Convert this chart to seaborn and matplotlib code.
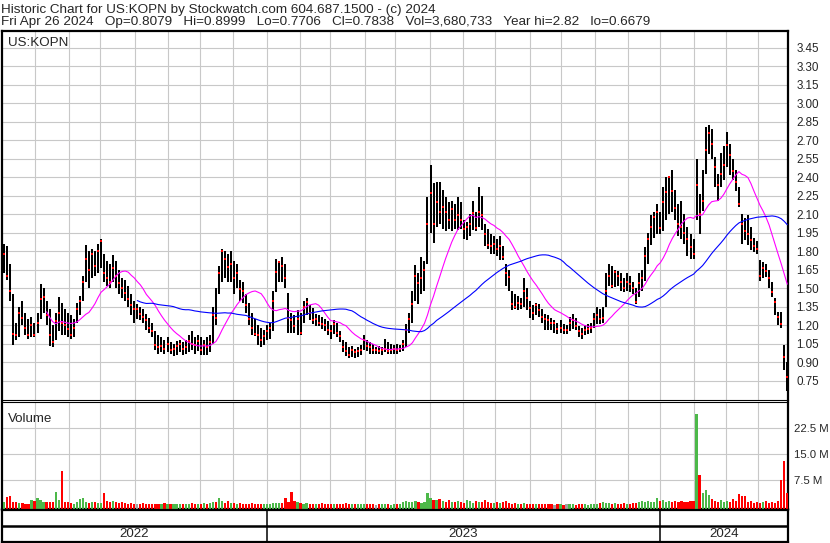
import numpy as np
import pandas as pd
import matplotlib
matplotlib.use("Agg")
import matplotlib.pyplot as plt
import seaborn as sns

sns.set_style("white")
plt.rcParams['font.family'] = ['Liberation Sans', 'DejaVu Sans']

# one bar for every second trading day, 2022-05-02 .. 2024-04-26
highs = [
    1.86, 1.84, 1.70, 1.45, 1.22, 1.35, 1.40, 1.30, 1.25, 1.27,
    1.22, 1.30, 1.53, 1.50, 1.40, 1.33, 1.20, 1.30, 1.43, 1.38,
    1.33, 1.30, 1.28, 1.25, 1.38, 1.44, 1.60, 1.85, 1.80, 1.82,
    1.80, 1.86, 1.90, 1.78, 1.72, 1.70, 1.77, 1.72, 1.65, 1.58,
    1.57, 1.52, 1.45, 1.40, 1.37, 1.35, 1.33, 1.29, 1.26, 1.22,
    1.15, 1.12, 1.10, 1.08, 1.10, 1.06, 1.05, 1.07, 1.08, 1.06,
    1.08, 1.12, 1.15, 1.10, 1.12, 1.10, 1.08, 1.10, 1.12, 1.35,
    1.50, 1.68, 1.82, 1.80, 1.78, 1.80, 1.72, 1.70, 1.57, 1.55,
    1.45, 1.38, 1.30, 1.25, 1.20, 1.18, 1.16, 1.20, 1.22, 1.48,
    1.74, 1.72, 1.75, 1.70, 1.46, 1.30, 1.28, 1.32, 1.30, 1.40,
    1.42, 1.36, 1.34, 1.29, 1.28, 1.27, 1.25, 1.23, 1.20, 1.24,
    1.22, 1.15, 1.08, 1.06, 1.02, 1.03, 1.01, 1.02, 1.04, 1.12,
    1.08, 1.06, 1.05, 1.02, 1.03, 1.02, 1.09, 1.06, 1.05, 1.04,
    1.05, 1.04, 1.08, 1.21, 1.30, 1.48, 1.69, 1.62, 1.75, 1.72,
    2.24, 2.50, 2.35, 2.36, 2.36, 2.30, 2.24, 2.20, 2.21, 2.18,
    2.24, 2.20, 2.05, 2.04, 2.10, 2.21, 2.12, 2.32, 2.25, 2.02,
    1.98, 1.94, 1.92, 1.90, 1.92, 1.84, 1.70, 1.65, 1.48, 1.45,
    1.44, 1.42, 1.58, 1.50, 1.40, 1.36, 1.38, 1.37, 1.33, 1.29,
    1.28, 1.26, 1.24, 1.22, 1.24, 1.21, 1.20, 1.27, 1.29, 1.26,
    1.19, 1.18, 1.20, 1.21, 1.22, 1.30, 1.35, 1.33, 1.35, 1.62,
    1.70, 1.68, 1.65, 1.64, 1.62, 1.58, 1.62, 1.60, 1.55, 1.50,
    1.62, 1.65, 1.83, 1.95, 2.09, 2.12, 2.18, 2.12, 2.32, 2.40,
    2.40, 2.46, 2.30, 2.18, 2.21, 2.10, 2.00, 1.94, 1.90, 2.55,
    2.26, 2.46, 2.81, 2.82, 2.79, 2.56, 2.43, 2.60, 2.65, 2.77,
    2.67, 2.55, 2.46, 2.32, 2.10, 2.07, 2.09, 2.00, 1.91, 1.88,
    1.73, 1.71, 1.70, 1.65, 1.55, 1.42, 1.31, 1.31, 1.04, 0.90,
]
lows = [
    1.62, 1.57, 1.40, 1.04, 1.08, 1.10, 1.20, 1.12, 1.09, 1.10,
    1.10, 1.14, 1.25, 1.30, 1.20, 1.03, 1.02, 1.08, 1.15, 1.12,
    1.12, 1.10, 1.09, 1.10, 1.22, 1.28, 1.40, 1.55, 1.50, 1.58,
    1.60, 1.62, 1.66, 1.55, 1.52, 1.50, 1.55, 1.50, 1.45, 1.42,
    1.40, 1.35, 1.28, 1.22, 1.25, 1.24, 1.22, 1.16, 1.14, 1.10,
    1.00, 0.97, 0.98, 0.97, 0.98, 0.97, 0.95, 0.96, 0.98, 0.96,
    0.97, 0.98, 1.00, 0.97, 0.99, 0.96, 0.96, 0.96, 0.98, 1.05,
    1.20, 1.45, 1.55, 1.58, 1.55, 1.55, 1.45, 1.50, 1.40, 1.38,
    1.30, 1.20, 1.12, 1.11, 1.04, 1.02, 1.04, 1.08, 1.09, 1.15,
    1.47, 1.55, 1.55, 1.50, 1.14, 1.14, 1.14, 1.12, 1.12, 1.22,
    1.28, 1.24, 1.21, 1.19, 1.19, 1.17, 1.15, 1.12, 1.09, 1.13,
    1.10, 1.06, 0.98, 0.95, 0.93, 0.94, 0.93, 0.94, 0.96, 1.00,
    0.99, 0.97, 0.97, 0.97, 0.97, 0.96, 0.98, 0.97, 0.97, 0.97,
    0.97, 0.98, 0.99, 1.02, 1.14, 1.22, 1.40, 1.37, 1.45, 1.48,
    1.70, 1.95, 1.87, 2.00, 2.02, 1.98, 1.96, 1.98, 1.96, 1.98,
    1.97, 1.98, 1.90, 1.89, 1.92, 1.97, 1.96, 2.00, 1.97, 1.84,
    1.82, 1.78, 1.78, 1.76, 1.73, 1.73, 1.52, 1.48, 1.32, 1.33,
    1.32, 1.33, 1.35, 1.32, 1.26, 1.24, 1.28, 1.27, 1.22, 1.16,
    1.16, 1.16, 1.14, 1.13, 1.14, 1.13, 1.13, 1.15, 1.17, 1.16,
    1.10, 1.09, 1.12, 1.13, 1.14, 1.18, 1.21, 1.21, 1.22, 1.35,
    1.52, 1.50, 1.51, 1.52, 1.48, 1.47, 1.48, 1.47, 1.45, 1.37,
    1.43, 1.48, 1.56, 1.70, 1.85, 1.91, 1.94, 1.94, 1.96, 2.05,
    2.10, 2.12, 2.05, 1.92, 1.90, 1.86, 1.76, 1.74, 1.74, 2.05,
    1.94, 2.13, 2.43, 2.59, 2.55, 2.32, 2.21, 2.32, 2.38, 2.48,
    2.42, 2.38, 2.29, 2.16, 1.86, 1.89, 1.85, 1.81, 1.79, 1.78,
    1.56, 1.58, 1.59, 1.50, 1.43, 1.28, 1.20, 1.18, 0.84, 0.67,
]
closes = [
    1.78, 1.60, 1.48, 1.13, 1.12, 1.30, 1.26, 1.18, 1.12, 1.20,
    1.12, 1.22, 1.41, 1.43, 1.28, 1.12, 1.06, 1.23, 1.30, 1.22,
    1.20, 1.17, 1.12, 1.18, 1.33, 1.40, 1.55, 1.74, 1.65, 1.78,
    1.68, 1.80, 1.88, 1.62, 1.58, 1.55, 1.66, 1.60, 1.54, 1.50,
    1.46, 1.41, 1.36, 1.33, 1.33, 1.29, 1.27, 1.24, 1.18, 1.15,
    1.04, 1.02, 1.03, 1.01, 1.05, 1.00, 1.01, 1.03, 1.05, 1.01,
    1.02, 1.07, 1.05, 1.04, 1.07, 1.00, 1.04, 1.02, 1.06, 1.28,
    1.26, 1.62, 1.80, 1.74, 1.67, 1.70, 1.58, 1.62, 1.49, 1.48,
    1.36, 1.25, 1.18, 1.13, 1.12, 1.08, 1.11, 1.15, 1.18, 1.40,
    1.63, 1.71, 1.68, 1.58, 1.26, 1.24, 1.19, 1.25, 1.14, 1.35,
    1.39, 1.30, 1.24, 1.25, 1.22, 1.21, 1.20, 1.16, 1.15, 1.21,
    1.14, 1.11, 1.02, 0.99, 0.96, 1.00, 0.98, 0.99, 1.00, 1.08,
    1.03, 1.02, 1.00, 1.00, 0.99, 1.00, 1.01, 0.99, 1.00, 1.01,
    1.00, 1.01, 1.05, 1.16, 1.25, 1.37, 1.60, 1.54, 1.58, 1.65,
    2.02, 2.27, 2.02, 2.20, 2.12, 2.16, 2.12, 2.05, 2.14, 2.05,
    2.09, 2.05, 1.98, 2.00, 2.02, 2.11, 1.99, 2.12, 2.09, 1.94,
    1.85, 1.84, 1.86, 1.82, 1.84, 1.75, 1.62, 1.59, 1.37, 1.35,
    1.38, 1.37, 1.48, 1.42, 1.34, 1.30, 1.36, 1.32, 1.27, 1.25,
    1.24, 1.22, 1.22, 1.17, 1.18, 1.16, 1.16, 1.22, 1.24, 1.19,
    1.15, 1.13, 1.16, 1.17, 1.18, 1.25, 1.28, 1.25, 1.26, 1.48,
    1.60, 1.52, 1.63, 1.60, 1.55, 1.50, 1.55, 1.53, 1.50, 1.39,
    1.54, 1.58, 1.76, 1.90, 2.00, 2.08, 2.12, 1.99, 2.20, 2.28,
    2.40, 2.29, 2.15, 2.02, 2.00, 1.95, 1.90, 1.83, 1.78, 2.34,
    2.10, 2.21, 2.62, 2.76, 2.67, 2.48, 2.34, 2.43, 2.50, 2.66,
    2.58, 2.45, 2.36, 2.18, 2.02, 1.96, 1.94, 1.89, 1.84, 1.82,
    1.60, 1.66, 1.64, 1.58, 1.47, 1.39, 1.27, 1.21, 0.94, 0.78,
]
# volume in millions of shares
volumes = [
    1.2, 2.5, 2.9, 1.2, 1.1, 0.7, 0.8, 0.6, 0.5, 1.7,
    1.5, 2.4, 1.6, 1.0, 1.2, 1.0, 1.1, 4.1, 1.8, 10.0,
    1.0, 1.2, 0.8, 0.6, 1.0, 2.0, 2.4, 1.2, 0.9, 1.0,
    1.1, 0.9, 0.9, 3.6, 1.5, 1.0, 1.5, 1.2, 0.8, 1.0,
    0.7, 0.6, 0.8, 0.5, 0.6, 0.4, 0.7, 0.5, 0.4, 0.5,
    0.6, 0.4, 0.5, 0.7, 0.4, 0.5, 0.6, 0.5, 0.4, 0.6,
    0.5, 0.4, 0.7, 0.5, 0.6, 0.5, 0.8, 0.5, 0.7, 1.0,
    1.0, 2.4, 1.4, 0.8, 1.5, 0.7, 0.8, 0.6, 0.7, 0.5,
    0.6, 0.5, 0.7, 0.4, 0.5, 0.6, 0.5, 0.4, 0.6, 0.8,
    0.9, 0.7, 0.9, 2.4, 1.2, 3.9, 1.5, 1.0, 0.8, 0.6,
    0.7, 0.5, 0.6, 0.4, 0.5, 0.7, 0.5, 0.4, 0.6, 0.5,
    0.4, 0.6, 0.5, 0.7, 0.4, 0.5, 0.6, 0.4, 0.5, 0.6,
    0.4, 0.5, 0.4, 0.3, 0.5, 0.4, 0.6, 0.4, 0.3, 0.5,
    0.4, 0.6, 1.0, 1.4, 1.2, 1.0, 1.5, 1.2, 0.9, 1.1,
    3.7, 2.4, 1.8, 1.6, 2.0, 1.5, 1.2, 1.7, 1.0, 1.2,
    1.5, 1.0, 0.9, 1.8, 1.3, 0.8, 1.4, 1.1, 1.0, 1.6,
    1.2, 0.9, 0.8, 1.0, 0.7, 1.1, 1.5, 0.9, 0.6, 0.8,
    0.6, 0.5, 0.7, 0.4, 0.5, 0.6, 0.5, 0.4, 0.6, 0.5,
    0.4, 0.5, 0.3, 0.4, 0.5, 0.3, 0.4, 0.5, 0.4, 0.3,
    0.4, 0.5, 0.4, 0.3, 0.5, 0.4, 0.4, 0.8, 1.1, 0.9,
    0.7, 0.6, 0.8, 0.5, 0.6, 0.7, 0.5, 0.6, 0.8, 0.7,
    1.0, 1.4, 1.2, 1.5, 1.0, 1.2, 2.4, 1.5, 1.8, 1.2,
    1.3, 1.0, 1.5, 1.1, 1.4, 1.2, 1.0, 1.3, 1.3, 26.5,
    8.8, 3.8, 4.5, 3.0, 2.0, 1.5, 1.2, 1.8, 1.0, 1.4,
    1.2, 2.0, 1.5, 3.4, 2.9, 2.8, 1.0, 1.3, 0.9, 1.2,
    0.8, 1.0, 1.5, 0.9, 1.2, 0.8, 1.5, 7.4, 12.8, 3.7,
]

price_ticks = [0.75, 0.90, 1.05, 1.20, 1.35, 1.50, 1.65, 1.80, 1.95, 2.10,
               2.25, 2.40, 2.55, 2.70, 2.85, 3.00, 3.15, 3.30, 3.45]
vol_ticks = [7.5, 15.0, 22.5]
vol_labels = ['7.5 M', '15.0 M', '22.5 M']

title1 = "Historic Chart for US:KOPN by Stockwatch.com 604.687.1500 - (c) 2024"
title2 = ("Fri Apr 26 2024   Op=0.8079   Hi=0.8999   Lo=0.7706   Cl=0.7838   "
          "Vol=3,680,733   Year hi=2.82   lo=0.6679")

days = pd.bdate_range('2022-05-02', '2024-04-26')
pos = np.arange(1, len(days), 2)
df = pd.DataFrame({'pos': pos, 'high': highs, 'low': lows,
                   'close': closes, 'vol': volumes})
df['ma_fast'] = df['close'].rolling(15).mean()
df['ma_slow'] = df['close'].rolling(45).mean()
chg = df['close'].diff().fillna(1)
df['vcol'] = np.where(chg > 0, '#4CB849', np.where(chg < 0, '#FF0000', '#A0A0A0'))

month_lines = [i - 0.5 for i in range(1, len(days)) if days[i].month != days[i - 1].month]
year_lines = [i - 0.5 for i in range(1, len(days)) if days[i].year != days[i - 1].year]

W, H = 830, 543
fig = plt.figure(figsize=(W / 100, H / 100), dpi=100)


def box(left, top, right, bottom):
    return [left / W, 1 - bottom / H, (right - left) / W, (bottom - top) / H]


ax = fig.add_axes(box(2, 31, 788, 400))
axv = fig.add_axes(box(2, 402, 788, 509))
axs = fig.add_axes(box(2, 510, 788, 542))
xlim = (-0.5, len(days) - 0.5)
grid_kw = dict(color='#C8C8C8', lw=0.8)

# price panel
ax.vlines(df['pos'], df['low'], df['high'], color='black', lw=1.2, zorder=3,
          antialiased=False)
ax.scatter(df['pos'], df['close'], marker='s', s=2.2, color='red', linewidths=0, zorder=4)
sns.lineplot(data=df.dropna(subset=['ma_fast']), x='pos', y='ma_fast', ax=ax,
             color='#FF00FF', lw=0.8, zorder=5)
sns.lineplot(data=df.dropna(subset=['ma_slow']), x='pos', y='ma_slow', ax=ax,
             color='#0000FF', lw=0.8, zorder=5)
ax.set_xlim(xlim)
ax.set_ylim(0.593, 3.586)
ax.set_yticks(price_ticks)
ax.set_yticklabels(['{:.2f}'.format(t) for t in price_ticks])
ax.set_xticks(month_lines)
ax.grid(True, **grid_kw)
ax.tick_params(axis='y', left=False, right=False, labelleft=False, labelright=True,
               length=0, pad=6, labelsize=8.4)
ax.tick_params(axis='x', bottom=False, labelbottom=False, length=0)
ax.set_xlabel('')
ax.set_ylabel('')
ax.text(0.008, 0.968, 'US:KOPN', transform=ax.transAxes, fontsize=9.6, va='center')

# volume panel
floor = -0.9
axv.bar(df['pos'], df['vol'] - floor, bottom=floor, width=1.45, color=df['vcol'],
        linewidth=0, zorder=3, antialiased=False)
axv.set_xlim(xlim)
axv.set_ylim(floor, 29.9)
axv.set_yticks(vol_ticks)
axv.set_yticklabels(vol_labels)
axv.set_xticks(month_lines)
axv.grid(True, **grid_kw)
axv.tick_params(axis='y', left=False, right=False, labelleft=False, labelright=True,
                length=0, pad=4, labelsize=8.2)
axv.tick_params(axis='x', bottom=False, labelbottom=False, length=0)
axv.text(0.008, 0.84, 'Volume', transform=axv.transAxes, fontsize=9.6, va='center')

# year strip
axs.set_xlim(xlim)
axs.set_ylim(0, 2)
axs.set_xticks([])
axs.set_yticks([])
axs.axhline(1, color='black', lw=1.8)
for yl in year_lines:
    axs.axvline(yl, color='black', lw=1.1)
edges = [xlim[0]] + year_lines + [xlim[1]]
for k, yr in enumerate(['2022', '2023', '2024']):
    axs.text((edges[k] + edges[k + 1]) / 2, 0.48, yr, ha='center', va='center', fontsize=9.6)

for a in (ax, axv, axs):
    for sp in a.spines.values():
        sp.set_color('black')
        sp.set_linewidth(1.6)
ax.spines['bottom'].set_linewidth(0.8)
axv.spines['top'].set_linewidth(0.8)

fig.text(1 / W, 1 - 10.5 / H, title1, fontsize=9.7, va='center', ha='left')
fig.text(1 / W, 1 - 22.5 / H, title2, fontsize=9.7, va='center', ha='left')

fig.savefig('out.png', dpi=100)
